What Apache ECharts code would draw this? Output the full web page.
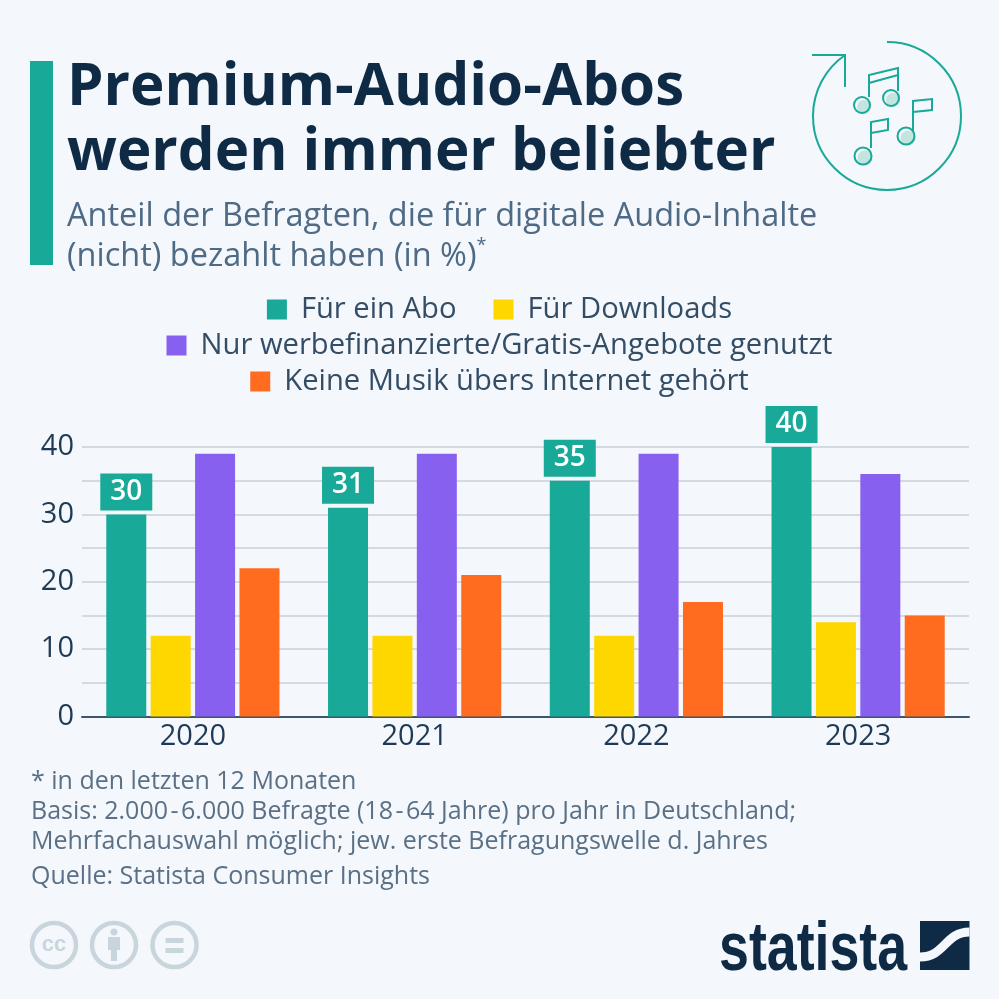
<!DOCTYPE html>
<html>
<head>
<meta charset="utf-8">
<style>
  html, body { margin: 0; padding: 0; background: #f4f7fb; }
  #chart { width: 999px; height: 999px; }
</style>
<script src="https://cdn.jsdelivr.net/npm/echarts@6/dist/echarts.min.js"></script>
</head>
<body>
<div id="chart"></div>
<script>
var years = ['2020', '2021', '2022', '2023'];
var abo = [30, 31, 35, 40];
var downloads = [12, 12, 12, 14];
var gratis = [39, 39, 39, 36];
var keine = [22, 21, 17, 15];

var seriesNames = ['Für ein Abo', 'Für Downloads', 'Nur werbefinanzierte/Gratis-Angebote genutzt', 'Keine Musik übers Internet gehört'];
var seriesColors = ['#18a999', '#ffd700', '#8860f0', '#ff6c20'];

var footLines = [
  '* in den letzten 12 Monaten',
  'Basis: 2.000\u200a-\u200a6.000 Befragte (18\u200a-\u200a64 Jahre) pro Jahr in Deutschland;',
  'Mehrfachauswahl möglich; jew. erste Befragungswelle d. Jahres'
];
var source = 'Quelle: Statista Consumer Insights';

var bg = '#f4f7fb';
var navy = '#0f2a45';
var teal = '#18a999';
var font = '"Open Sans"';

function legendRow(names, y) {
  return {
    data: names,
    top: y,
    left: 'center',
    icon: 'rect',
    itemWidth: 20,
    itemHeight: 20,
    itemGap: 37,
    textStyle: { fontFamily: font, fontSize: 29.2, color: '#334d66', padding: [0, 0, 0, 9] },
    selectedMode: false
  };
}

function barSeries(i, values) {
  return {
    name: seriesNames[i],
    type: 'bar',
    data: values,
    barWidth: 40,
    barGap: '11%',
    itemStyle: { color: seriesColors[i] }
  };
}

function note(points) {
  return { type: 'polyline', shape: { points: points }, style: { fill: null, stroke: teal, lineWidth: 2 } };
}
function head(cx, cy, r) {
  return [
    { type: 'circle', shape: { cx: cx + 2, cy: cy + 2, r: r - 1 }, style: { fill: '#c2e5df' } },
    { type: 'circle', shape: { cx: cx, cy: cy, r: r }, style: { fill: null, stroke: teal, lineWidth: 2 } }
  ];
}
function ccCircle(cx) {
  return { type: 'circle', shape: { cx: cx, cy: 945, r: 22 }, style: { fill: null, stroke: '#c9d5dd', lineWidth: 4.5 } };
}
function box(x, y, w, h, fill) {
  return { type: 'rect', shape: { x: x, y: y, width: w, height: h }, style: { fill: fill } };
}
function footText(str, y) {
  return { type: 'text', left: 31, top: y, style: { text: str, font: '25px ' + font, fill: '#5a7086' } };
}

var chart = echarts.init(document.getElementById('chart'));

var bars = [barSeries(0, abo), barSeries(1, downloads), barSeries(2, gratis), barSeries(3, keine)];
bars[0].label = {
  show: true,
  position: 'top',
  distance: 4,
  color: '#ffffff',
  fontFamily: font,
  fontSize: 28,
  fontWeight: 600,
  backgroundColor: teal,
  width: 52,
  height: 37,
  lineHeight: 37,
  align: 'center'
};

var graphics = [
  box(30, 61, 23, 204, teal),
  // icon
  { type: 'arc', shape: { cx: 887, cy: 116, r: 74, startAngle: -Math.PI / 2, endAngle: 235.5 * Math.PI / 180, clockwise: true }, style: { fill: null, stroke: teal, lineWidth: 2 } },
  note([[812, 55], [845, 55], [845, 87]]),
  note([[869, 97], [869, 75], [898, 68], [898, 91]]),
  note([[869, 83], [898, 75]]),
  note([[871, 148], [871, 122], [888, 119], [888, 130], [871, 133]]),
  note([[913, 131], [913, 101], [932, 99], [932, 110], [913, 112]])
].concat(head(862, 105, 8), head(891, 98, 8), head(863, 156, 8.5), head(906, 136, 8.5), [
  footText(footLines[0], 769),
  footText(footLines[1], 799),
  footText(footLines[2], 829),
  footText(source, 864),
  // licence icons
  ccCircle(54), ccCircle(114), ccCircle(174.5),
  { type: 'text', x: 54, y: 945, style: { text: 'cc', font: 'bold 22px "Liberation Sans"', fill: '#c9d5dd', textAlign: 'center', textVerticalAlign: 'middle' } },
  { type: 'circle', shape: { cx: 114, cy: 932, r: 3.5 }, style: { fill: '#c9d5dd' } },
  { type: 'polygon', shape: { points: [[108, 937], [120, 937], [120, 950], [117, 950], [117, 961], [111, 961], [111, 950], [108, 950]] }, style: { fill: '#c9d5dd' } },
  box(165.5, 938, 18, 5, '#c9d5dd'),
  box(165.5, 948, 18, 5, '#c9d5dd'),
  // statista logo
  { type: 'text', x: 719, y: 985, scaleX: 0.79, style: { text: 'statista', font: 'bold 68px "Liberation Sans"', fill: navy, textVerticalAlign: 'bottom' } },
  box(920, 921, 49.5, 49, navy),
  { type: 'bezierCurve', shape: { x1: 920, y1: 957, cpx1: 945, cpy1: 957, cpx2: 945, cpy2: 932, x2: 969.5, y2: 932 }, style: { fill: null, stroke: bg, lineWidth: 9 } }
]);

chart.setOption({
  animation: false,
  backgroundColor: bg,
  textStyle: { fontFamily: font },
  title: [
    {
      text: 'Premium-Audio-Abos\nwerden immer beliebter',
      left: 62,
      top: 51,
      textStyle: { fontFamily: font, fontSize: 58.3, fontWeight: 'bold', color: navy, lineHeight: 65 }
    },
    {
      text: 'Anteil der Befragten, die für digitale Audio-Inhalte\n(nicht) bezahlt haben (in %){s|*}',
      left: 62,
      top: 192,
      textStyle: {
        fontFamily: font, fontSize: 32.5, fontWeight: 'normal', color: '#4e6a85', lineHeight: 40,
        rich: { s: { fontFamily: font, fontSize: 18, color: '#4e6a85', verticalAlign: 'top', lineHeight: 32 } }
      }
    }
  ],
  legend: [
    legendRow(seriesNames.slice(0, 2), 290),
    legendRow(seriesNames.slice(2, 3), 326),
    legendRow(seriesNames.slice(3, 4), 362)
  ],
  grid: { left: 82, right: 30, top: 447, bottom: 282.5 },
  xAxis: {
    type: 'category',
    data: years,
    axisTick: { show: false },
    axisLine: { lineStyle: { color: '#3d566e', width: 2 } },
    axisLabel: { fontFamily: font, fontSize: 29, color: '#1f3a56', margin: 6 }
  },
  yAxis: {
    type: 'value',
    min: 0,
    max: 40,
    interval: 5,
    axisLine: { show: false },
    axisTick: { show: false },
    splitLine: { lineStyle: { color: '#c8d1da', width: 1.5 } },
    axisLabel: {
      fontFamily: font, fontSize: 29, color: '#1f3a56', margin: 8, padding: [3, 0, 0, 0],
      formatter: function(v) { return v % 10 === 0 ? String(v) : ''; }
    }
  },
  series: bars,
  graphic: graphics
});
</script>
</body>
</html>
